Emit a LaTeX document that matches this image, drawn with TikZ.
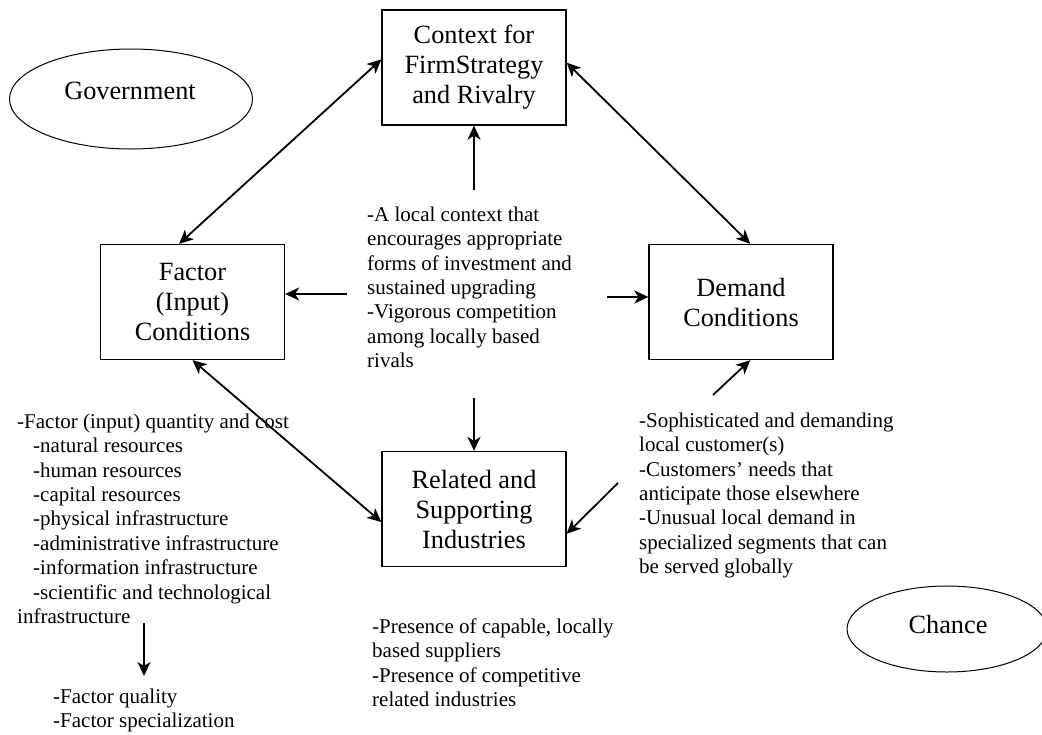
\documentclass[tikz,border=0pt]{standalone}
\usepackage{fontspec}
\setmainfont{Liberation Serif}
\usetikzlibrary{arrows.meta,shapes.geometric,calc}
% invisible strut that fixes the top of a note block above its first baseline
\newcommand\notestrut{\rule{0pt}{17pt}}
\begin{document}
\begin{tikzpicture}[x=1pt,y=-1pt,
  boxnode/.style={draw, line width=1.3pt, rectangle, minimum width=184pt,
    minimum height=115pt, align=center, inner sep=0pt,
    font=\fontsize{26.3}{30}\selectfont},
  ovalnode/.style={draw, line width=1pt, ellipse, inner sep=0pt},
  bigtext/.style={inner sep=0pt, font=\fontsize{26.3}{30}\selectfont},
  notes/.style={align=left, anchor=north west, inner sep=0pt,
    font=\fontsize{21}{24.4}\selectfont},
  head/.tip={Stealth[length=14pt,width=13pt,inset=4pt]},
  link/.style={line width=1.8pt, -head},
  biglink/.style={line width=1.8pt, head-head},
]
\useasboundingbox (0,0) rectangle (1042,734);

% the four determinants
\node[boxnode] (ctx) at (474,67.5) {Context for\\FirmStrategy\\and Rivalry};
\node[boxnode] (fac) at (192.5,302) {Factor\\(Input)\\Conditions};
\node[boxnode] (dem) at (741,302) {Demand\\Conditions};
\node[boxnode] (rel) at (474,509) {Related and\\Supporting\\Industries};

% outside influences
\node[ovalnode, minimum width=243pt, minimum height=100pt] (gov) at (131,99) {};
\node[bigtext] (govtext) at (130,91) {Government};
\node[ovalnode, minimum width=200pt, minimum height=86pt] (chance) at (947,629) {};
\node[bigtext] (chancetext) at (948,624) {Chance};

% explanatory notes
\node[notes] (ctxnotes) at (367,204) {\notestrut-A local context that\\
encourages appropriate\\
forms of investment and\\
sustained upgrading\\
-Vigorous competition\\
among locally based\\
rivals};

\node[notes] (facnotes) at (17,411) {\notestrut-Factor (input) quantity and cost\\
\hspace*{16pt}-natural resources\\
\hspace*{16pt}-human resources\\
\hspace*{16pt}-capital resources\\
\hspace*{16pt}-physical infrastructure\\
\hspace*{16pt}-administrative infrastructure\\
\hspace*{16pt}-information infrastructure\\
\hspace*{16pt}-scientific and technological\\
infrastructure};

\node[notes] (qualnotes) at (53,686) {\notestrut-Factor quality\\
-Factor specialization};

\node[notes] (relnotes) at (372,616) {\notestrut-Presence of capable, locally\\
based suppliers\\
-Presence of competitive\\
related industries};

\node[notes] (demnotes) at (639,410) {\notestrut-Sophisticated and demanding\\
local customer(s)\\
-Customers’ needs that\\
anticipate those elsewhere\\
-Unusual local demand in\\
specialized segments that can\\
be served globally};

% two-way links around the diamond
\draw[biglink] (ctx.175) -- (fac.103);
\draw[biglink] (ctx.3) -- (dem.81);
\draw[biglink] (fac.south) -- (rel.188);

% one-way links
\coordinate (dsrc) at (713,395);
\draw[link] (dsrc) -- (dem.279);
\coordinate (rsrc) at (618,483);
\draw[link] (rsrc) -- (rel.345);

\coordinate (cup) at (474,190);
\draw[link] (cup) -- (ctx.south);
\coordinate (cdown) at (474,398);
\draw[link] (cdown) -- (rel.north);
\coordinate (cleft) at (347,294);
\draw[link] (cleft) -- (cleft -| fac.east);
\coordinate (cright) at (607,297);
\draw[link] (cright) -- (cright -| dem.west);

\coordinate (qtop) at (144,623);
\coordinate (qend) at (144,676);
\draw[link] (qtop) -- (qend);
\end{tikzpicture}
\end{document}
